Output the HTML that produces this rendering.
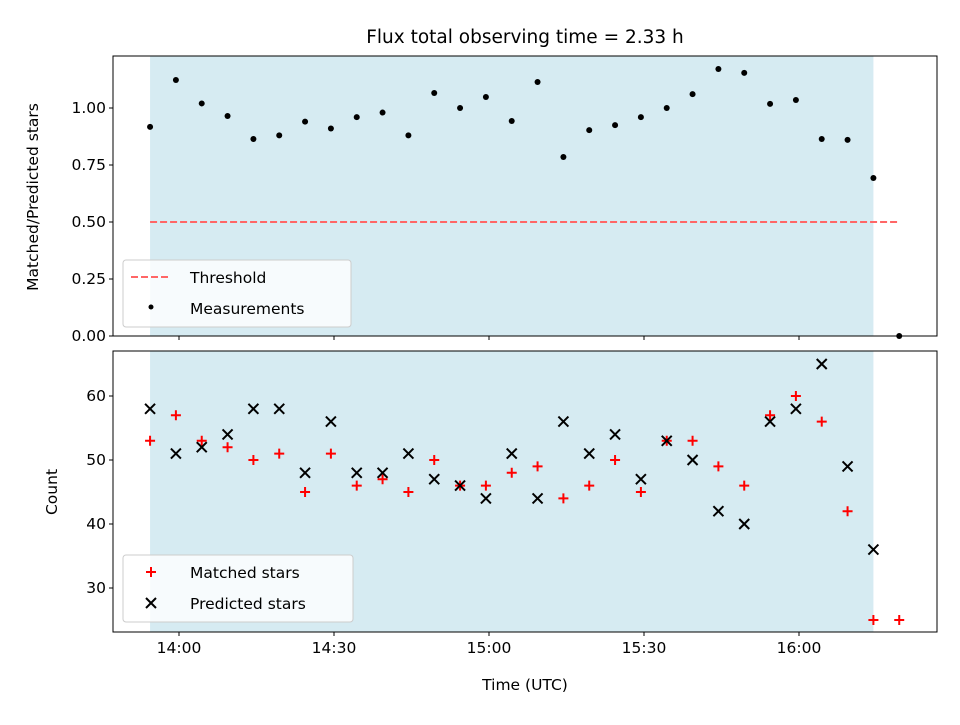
<!DOCTYPE html>
<html><head><meta charset="utf-8"><style>
body{margin:0;background:#fff;font-family:"Liberation Sans","DejaVu Sans",sans-serif;}
svg text{font-family:"DejaVu Sans","Liberation Sans",sans-serif;}
</style></head><body>
<svg id="c" width="960" height="720" xmlns="http://www.w3.org/2000/svg"></svg>
<script>
const times=[-5.6,-0.6,4.4,9.4,14.4,19.4,24.4,29.4,34.4,39.4,44.4,49.4,54.4,59.4,64.4,69.4,74.4,79.4,84.4,89.4,94.4,99.4,104.4,109.4,114.4,119.4,124.4,129.4,134.4,139.4];
const ratio=[0.917,1.123,1.02,0.965,0.864,0.88,0.94,0.91,0.96,0.98,0.88,1.066,1.0,1.048,0.943,1.114,0.785,0.903,0.925,0.96,1.0,1.061,1.171,1.154,1.018,1.035,0.864,0.86,0.693,0];
const matched=[53,57,53,52,50,51,45,51,46,47,45,50,46,46,48,49,44,46,50,45,53,53,49,46,57,60,56,42,25,25];
const predicted=[58,51,52,54,58,58,48,56,48,48,51,47,46,44,51,44,56,51,54,47,53,50,42,40,56,58,65,49,36];
const xTickMins=[0,30,60,90,120];
const xTickLabels=["14:00","14:30","15:00","15:30","16:00"];
const topTicks=[0,0.25,0.5,0.75,1.0];
const topTickLabels=["0.00","0.25","0.50","0.75","1.00"];
const botTicks=[30,40,50,60];
const threshold=0.5;
const spanStart=times[0], spanEnd=times[28];

const svg=document.getElementById('c');const NS="http://www.w3.org/2000/svg";
const FS=15.5;
function el(t,a,p){const e=document.createElementNS(NS,t);for(const k in a)e.setAttribute(k,a[k]);(p||svg).appendChild(e);return e;}
const L=113,R=937;
const X=m=>179+m*155/30;
const Y1=v=>336-v*228;
const Y2=v=>396-(v-60)*6.4;
function axes(top,bot,name){
  const g=el('g',{});
  const s=el('rect',{x:X(spanStart),y:top,width:X(spanEnd)-X(spanStart),height:bot-top,fill:'#add8e6','fill-opacity':0.5},g);
  
  return g;
}
function frame(g,top,bot,labels){
  el('rect',{x:L,y:top,width:R-L,height:bot-top,fill:'none',stroke:'#000','stroke-width':1},g);
  xTickMins.forEach((m,i)=>{el('line',{x1:X(m),x2:X(m),y1:bot,y2:bot+4,stroke:'#000'},g);
    if(labels){const t=el('text',{x:X(m),y:bot+21,'font-size':FS,'text-anchor':'middle'},g);t.textContent=xTickLabels[i];
    }});
}
// top
const g1=axes(56,336,'ratio-panel');
const th=el('line',{x1:X(times[0]),x2:X(times[29]),y1:Y1(threshold),y2:Y1(threshold),stroke:'#ff6666','stroke-width':2,'stroke-dasharray':'7,3'},g1);

ratio.forEach((v,i)=>{const c=el('circle',{cx:X(times[i]),cy:Y1(v),r:3,fill:'#000'},g1);
 });
frame(g1,56,336,false);
topTicks.forEach((v,i)=>{el('line',{x1:L-4,x2:L,y1:Y1(v),y2:Y1(v),stroke:'#000'},g1);
 const t=el('text',{x:L-7,y:Y1(v)+5,'font-size':FS,'text-anchor':'end'},g1);t.textContent=topTickLabels[i];
 });
let t=el('text',{x:0,y:0,'font-size':FS,'text-anchor':'middle',transform:'translate(38,197) rotate(-90)'});t.textContent='Matched/Predicted stars';

t=el('text',{x:525,y:43,'font-size':18.5,'text-anchor':'middle'});t.textContent='Flux total observing time = 2.33 h';

// top legend
let lg=el('g',{});
el('rect',{x:123,y:260,width:228,height:67,rx:3,fill:'#fff','fill-opacity':0.8,stroke:'#ccc'},lg);
el('line',{x1:131,x2:171,y1:277,y2:277,stroke:'#ff6666','stroke-width':2,'stroke-dasharray':'7,3'},lg);
t=el('text',{x:190,y:283,'font-size':FS},lg);t.textContent='Threshold';
el('circle',{cx:151,cy:307,r:2.5,fill:'#000'},lg);
t=el('text',{x:190,y:314,'font-size':FS},lg);t.textContent='Measurements';
// bottom
const g2=axes(351,632,'count-panel');
matched.forEach((v,i)=>{const x=X(times[i]),y=Y2(v);const p=el('path',{d:`M${x-5},${y}H${x+5}M${x},${y-5}V${y+5}`,stroke:'#ff0000','stroke-width':2},g2);
 });
predicted.forEach((v,i)=>{const x=X(times[i]),y=Y2(v);const p=el('path',{d:`M${x-5},${y-5}L${x+5},${y+5}M${x-5},${y+5}L${x+5},${y-5}`,stroke:'#000','stroke-width':2},g2);
 });
frame(g2,351,632,true);
botTicks.forEach(v=>{el('line',{x1:L-4,x2:L,y1:Y2(v),y2:Y2(v),stroke:'#000'},g2);
 const t=el('text',{x:L-7,y:Y2(v)+5,'font-size':FS,'text-anchor':'end'},g2);t.textContent=String(v);
 });
t=el('text',{x:0,y:0,'font-size':FS,'text-anchor':'middle',transform:'translate(57,492) rotate(-90)'});t.textContent='Count';

t=el('text',{x:525,y:690,'font-size':FS,'text-anchor':'middle'});t.textContent='Time (UTC)';

lg=el('g',{});
el('rect',{x:123,y:555,width:230,height:67,rx:3,fill:'#fff','fill-opacity':0.8,stroke:'#ccc'},lg);
el('path',{d:'M146,572H156M151,567V577',stroke:'#ff0000','stroke-width':2},lg);
t=el('text',{x:190,y:578,'font-size':FS},lg);t.textContent='Matched stars';
el('path',{d:'M146,598L156,608M146,608L156,598',stroke:'#000','stroke-width':2},lg);
t=el('text',{x:190,y:609,'font-size':FS},lg);t.textContent='Predicted stars';
</script>
</body></html>
